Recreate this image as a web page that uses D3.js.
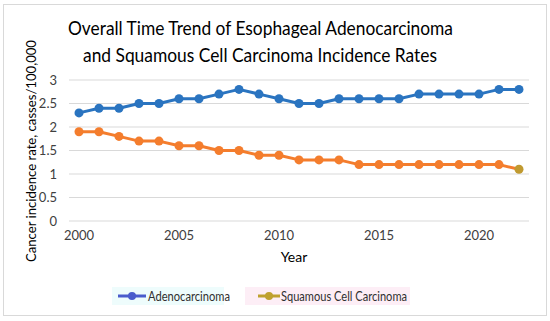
<!DOCTYPE html>
<html><head><meta charset="utf-8">
<script src="https://cdn.jsdelivr.net/npm/d3@7"></script>
<style>body{margin:0;background:#fff}svg{display:block;font-family:Lato,"Open Sans",sans-serif}</style>
</head><body><svg id="c" width="550" height="321"></svg>
<script>
const years = d3.range(2000, 2023);
const adeno = [2.3,2.4,2.4,2.5,2.5,2.6,2.6,2.7,2.8,2.7,2.6,2.5,2.5,2.6,2.6,2.6,2.6,2.7,2.7,2.7,2.7,2.8,2.8];
const scc = [1.9,1.9,1.8,1.7,1.7,1.6,1.6,1.5,1.5,1.4,1.4,1.3,1.3,1.3,1.2,1.2,1.2,1.2,1.2,1.2,1.2,1.2,1.1];
const yTicks = [0,0.5,1,1.5,2,2.5,3];
const xTickLabels = [2000,2005,2010,2015,2020];
const seriesNames = ["Adenocarcinoma","Squamous Cell Carcinoma"];

const svg = d3.select("#c");
svg.append("rect").attr("x",3.5).attr("y",4.5).attr("width",543).attr("height",311).attr("fill","#fff").attr("stroke","#d9d9d9");

const x = d3.scaleBand().domain(years).range([69,529]);
const y = d3.scaleLinear().domain([0,3]).range([221,80]);
const cx = d => x(d) + x.bandwidth()/2;

const grid = svg.append("g");
grid.selectAll("line").data(yTicks).join("line")
  .attr("x1",69).attr("x2",529).attr("y1",d=>y(d)).attr("y2",d=>y(d))
  .attr("stroke","#d9d9d9").attr("stroke-width",1);

const yAxis = svg.append("g").attr("transform","translate(69,0)")
  .call(d3.axisLeft(y).tickValues(yTicks).tickSize(0).tickPadding(12).tickFormat(d=>d));
yAxis.select(".domain").remove();
yAxis.selectAll("text").attr("font-size",13).attr("fill","#404040").attr("font-family","Lato");

const xAxis = svg.append("g").attr("transform","translate(0,221)")
  .call(d3.axisBottom(x).tickValues(xTickLabels).tickSize(0).tickPadding(10));
xAxis.select(".domain").remove();
xAxis.selectAll("text").attr("font-size",13).attr("fill","#404040").attr("font-family","Lato");

const title = svg.append("text").attr("text-anchor","middle").attr("font-size",20).attr("fill","#000");
title.append("tspan").attr("x",260.5).attr("y",35).attr("textLength",385).attr("lengthAdjust","spacingAndGlyphs").text("Overall Time Trend of Esophageal Adenocarcinoma");
title.append("tspan").attr("x",260).attr("y",62).attr("textLength",354).attr("lengthAdjust","spacingAndGlyphs").text("and Squamous Cell Carcinoma Incidence Rates");

svg.append("text").attr("transform","translate(36,151) rotate(-90)").attr("text-anchor","middle")
  .attr("font-size",14).attr("fill","#000").attr("textLength",222).attr("lengthAdjust","spacingAndGlyphs")
  .text("Cancer incidence rate, casses/100,000");
svg.append("text").attr("x",294).attr("y",262).attr("text-anchor","middle")
  .attr("font-size",14).attr("fill","#000").text("Year");

const colors = ["#2a74c0","#f47d2d"];
[adeno, scc].forEach((vals,i)=>{
  const line = d3.line().x((d,j)=>cx(years[j])).y(d=>y(d));
  svg.append("path").datum(vals).attr("d",line).attr("fill","none")
    .attr("stroke",colors[i]).attr("stroke-width",3).attr("stroke-linejoin","round");
  svg.append("g").selectAll("circle").data(vals).join("circle")
    .attr("cx",(d,j)=>cx(years[j])).attr("cy",d=>y(d)).attr("r",4.5)
    .attr("fill",(d,j)=> (i===1 && j===vals.length-1) ? "#c09a30" : colors[i]);
});

// legend
const legColors = ["#4a5ccc","#bfa12f"];
const legBg = ["#eefcfc","#fdeef6"];
const leg = [{x:118,w:28,tx:148,tl:82,bx:112,bw:112},{x:258,w:22,tx:281,tl:126,bx:245,bw:165}];
leg.forEach((l,i)=>{
  svg.append("rect").attr("x",l.bx).attr("y",287).attr("width",l.bw).attr("height",18).attr("fill",legBg[i]);
  svg.append("line").attr("x1",l.x).attr("x2",l.x+l.w).attr("y1",296).attr("y2",296)
    .attr("stroke",legColors[i]).attr("stroke-width",3);
  svg.append("circle").attr("cx",l.x+l.w/2).attr("cy",296).attr("r",4).attr("fill",legColors[i]);
  svg.append("text").attr("x",l.tx).attr("y",300.5).attr("font-size",12.5).attr("fill","#303030")
    .attr("textLength",l.tl).attr("lengthAdjust","spacingAndGlyphs").text(seriesNames[i]);
});
</script></body></html>
